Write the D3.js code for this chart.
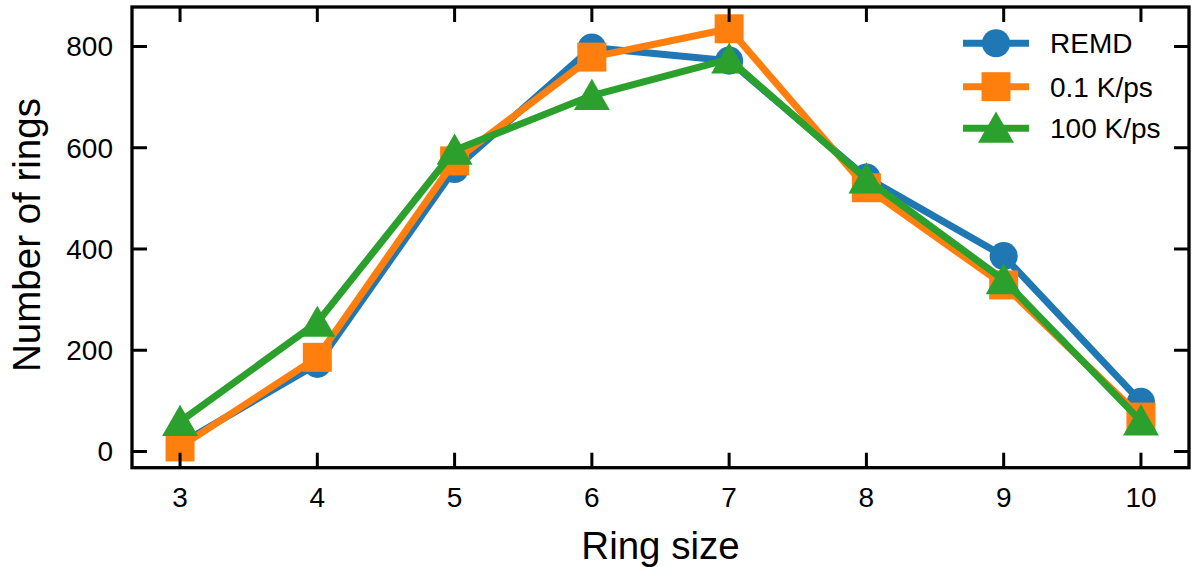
<!DOCTYPE html>
<html><head><meta charset="utf-8">
<script src="https://cdn.jsdelivr.net/npm/d3@7"></script>
<style>body{margin:0;background:#fff}svg{display:block}text{font-family:"Liberation Sans",Arial,sans-serif;fill:#000}</style>
</head><body>
<script>
const ringSizes = [3,4,5,6,7,8,9,10];
const remd = [15,173,558,798,772,541,386,98];
const slow = [9,186,574,779,835,521,329,68];
const fast = [59,255,595,703,775,538,339,60];
const seriesNames = ["REMD","0.1 K/ps","100 K/ps"];
const xTicks = [3,4,5,6,7,8,9,10];
const yTicks = [0,200,400,600,800];

const W=1193,H=567;
const L=132,R=1189,T=7,B=467.7;
const svg=d3.select("body").append("svg").attr("width",W).attr("height",H);
const x=d3.scaleLinear().domain([2.65,10.35]).range([L,R]);
const y=d3.scaleLinear().domain([-32,878]).range([B,T]);

const colors=["#1f77b4","#ff7f0e","#2ca02c"];
const shapes=[d3.symbolCircle,d3.symbolSquare,d3.symbolTriangle];
const sizes=[620,841,560];
const data=[remd,slow,fast];

const g=svg.append("g");
data.forEach((vals,i)=>{
  const pts=ringSizes.map((r,j)=>[x(r),y(vals[j])]);
  g.append("path").attr("d",d3.line()(pts)).attr("fill","none").attr("stroke",colors[i]).attr("stroke-width",7).attr("stroke-linejoin","round");
  pts.forEach(p=>{
    const dy=(i===2)?4:0;
    g.append("path").attr("d",d3.symbol().type(shapes[i]).size(sizes[i])()).attr("transform",`translate(${p[0]},${p[1]+dy})`).attr("fill",colors[i]);
  });
});

// axes frame
const ax=svg.append("g");
ax.append("rect").attr("x",L).attr("y",T).attr("width",R-L).attr("height",B-T).attr("fill","none").attr("stroke","#000").attr("stroke-width",3.3);
const tl=15;
xTicks.forEach(t=>{
  ax.append("line").attr("x1",x(t)).attr("x2",x(t)).attr("y1",B).attr("y2",B-tl).attr("stroke","#000").attr("stroke-width",3);
  ax.append("line").attr("x1",x(t)).attr("x2",x(t)).attr("y1",T).attr("y2",T+tl).attr("stroke","#000").attr("stroke-width",3);
  ax.append("text").attr("x",x(t)).attr("y",507).attr("text-anchor","middle").attr("font-size",28).text(t);
});
yTicks.forEach(t=>{
  ax.append("line").attr("x1",L).attr("x2",L+tl).attr("y1",y(t)).attr("y2",y(t)).attr("stroke","#000").attr("stroke-width",3);
  ax.append("line").attr("x1",R).attr("x2",R-tl).attr("y1",y(t)).attr("y2",y(t)).attr("stroke","#000").attr("stroke-width",3);
  ax.append("text").attr("x",113).attr("y",y(t)+10).attr("text-anchor","end").attr("font-size",28).text(t);
});
svg.append("text").attr("x",(L+R)/2).attr("y",559).attr("text-anchor","middle").attr("font-size",38.5).text("Ring size");
svg.append("text").attr("transform","translate(40,235) rotate(-90)").attr("text-anchor","middle").attr("font-size",38.5).text("Number of rings");

// legend
const ly=[43.3,86.7,128.3];
seriesNames.forEach((n,i)=>{
  svg.append("line").attr("x1",963).attr("x2",1029).attr("y1",ly[i]).attr("y2",ly[i]).attr("stroke",colors[i]).attr("stroke-width",7);
  svg.append("path").attr("d",d3.symbol().type(shapes[i]).size(sizes[i])()).attr("transform",`translate(996,${ly[i]+(i===2?4:0)})`).attr("fill",colors[i]);
  svg.append("text").attr("x",1050).attr("y",ly[i]+10).attr("font-size",28).text(n);
});
</script>
</body></html>
